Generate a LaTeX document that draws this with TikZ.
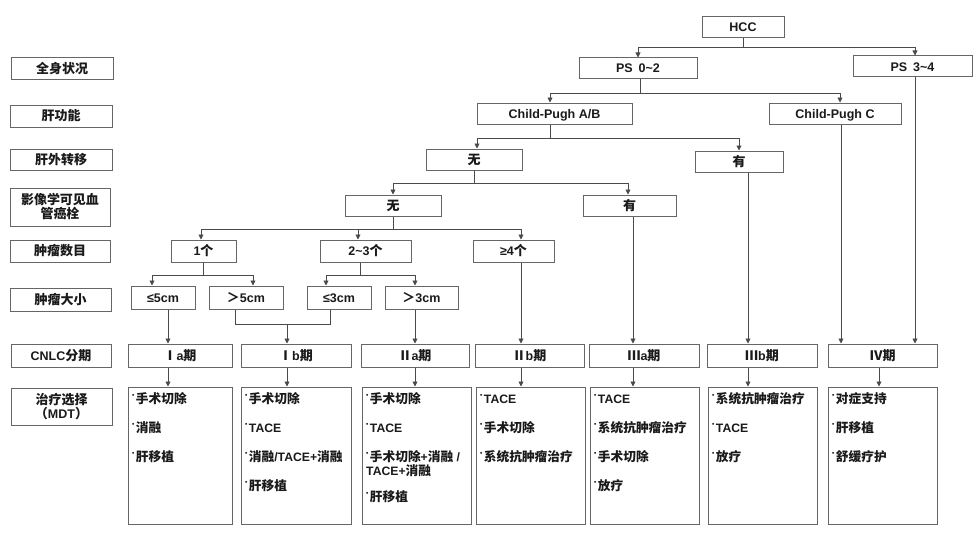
\documentclass[tikz,border=0pt]{standalone}
\usepackage{fontspec}
\setmainfont{Liberation Sans}
\newfontfamily\zhf{Noto Sans CJK SC}[Scale=1.04]
\usetikzlibrary{arrows.meta}
\newcommand\z[1]{{\zhf #1}}
\newcommand\bul{\raisebox{0.5em}{\fontsize{6.5}{6.5}\selectfont\textbullet}\hspace{1.5pt}}
\newcommand\lblfont{\fontsize{12.5}{14}\selectfont\bfseries}
\newcommand\trfont{\fontsize{12.2}{14}\selectfont\bfseries}
\definecolor{boxc}{HTML}{666666}
\definecolor{linec}{HTML}{4A4A4A}
\definecolor{txt}{HTML}{1A1A1A}
\begin{document}
\begin{tikzpicture}[x=1pt,y=-1pt,
  box/.style={draw=boxc, line width=1pt, fill=white, inner sep=0pt, font=\lblfont, text=txt, text height=9.5pt, text depth=0.5pt},
  box2/.style={draw=boxc, line width=1pt, fill=white, inner sep=0pt, font=\lblfont, text=txt, align=center},
  tl/.style={anchor=base west, inner sep=0pt, font=\trfont, text=txt},
  conn/.style={draw=linec, line width=0.85pt},
  arr/.style={conn, -{Triangle[length=5pt,width=5pt]}}]
\fill[white] (0,0) rectangle (980,535);
\useasboundingbox (0,0) rectangle (980,535);

% left column
\node[box, minimum width=102pt, minimum height=22pt] (L1) at (62,69) {\z{全身状况}};
\node[box, minimum width=102pt, minimum height=22pt] (L2) at (61,116) {\z{肝功能}};
\node[box, minimum width=102pt, minimum height=21pt] (L3) at (61,159.5) {\z{肝外转移}};
\node[box2, minimum width=100pt, minimum height=38pt] (L4) at (60,207) {\z{影像学可见血}\\\z{管癌栓}};
\node[box, minimum width=100pt, minimum height=22pt] (L5) at (60,251) {\z{肿瘤数目}};
\node[box, minimum width=101pt, minimum height=23pt] (L6) at (60.5,299.5) {\z{肿瘤大小}};
\node[box, minimum width=100pt, minimum height=23pt] (L7) at (61,355.5) {CNLC\z{分期}};
\node[box2, minimum width=101pt, minimum height=37pt] (L8) at (61.5,406.5) {\z{治疗选择}\\\z{（}MDT\z{）}};

% tree
\node[box, minimum width=82pt, minimum height=21pt] (HCC) at (743,27.5) {HCC};
\node[box, minimum width=118pt, minimum height=21pt] (PS02) at (638,68.5) {PS\hspace{6pt}0\textasciitilde 2};
\node[box, minimum width=119pt, minimum height=21pt] (PS34) at (912.5,66.5) {PS\hspace{6pt}3\textasciitilde 4};
\node[box, minimum width=155pt, minimum height=21pt] (CPAB) at (554.5,113.5) {Child-Pugh A/B};
\node[box, minimum width=132pt, minimum height=21pt] (CPC) at (835,113.5) {Child-Pugh C};
\node[box, minimum width=96pt, minimum height=21pt] (W3) at (474,159.5) {\z{无}};
\node[box, minimum width=88pt, minimum height=21pt] (Y3) at (739,161.5) {\z{有}};
\node[box, minimum width=96pt, minimum height=21pt] (W4) at (393,205.5) {\z{无}};
\node[box, minimum width=93pt, minimum height=21pt] (Y4) at (629.5,205.5) {\z{有}};
\node[box, minimum width=65pt, minimum height=22pt] (N1) at (203.5,251) {1\z{个}};
\node[box, minimum width=91pt, minimum height=22pt] (N2) at (365.5,251) {2\textasciitilde 3\z{个}};
\node[box, minimum width=81pt, minimum height=22pt] (N3) at (513.5,251) {≥4\z{个}};
\node[box, minimum width=64pt, minimum height=23pt] (S1) at (163,297.5) {≤5cm};
\node[box, minimum width=74pt, minimum height=23pt] (S2) at (246,297.5) {\z{＞}5cm};
\node[box, minimum width=64pt, minimum height=23pt] (S3) at (339,297.5) {≤3cm};
\node[box, minimum width=73pt, minimum height=23pt] (S4) at (421.5,297.5) {\z{＞}3cm};

% stages
\node[box, minimum width=104pt, minimum height=23pt] (Ia) at (180,355.5) {\z{Ⅰ}a\z{期}};
\node[box, minimum width=110pt, minimum height=23pt] (Ib) at (296,355.5) {\z{Ⅰ}b\z{期}};
\node[box, minimum width=108pt, minimum height=23pt] (IIa) at (415,355.5) {\z{Ⅱ}a\z{期}};
\node[box, minimum width=109pt, minimum height=23pt] (IIb) at (529.5,355.5) {\z{Ⅱ}b\z{期}};
\node[box, minimum width=110pt, minimum height=23pt] (IIIa) at (644,355.5) {\z{Ⅲ}a\z{期}};
\node[box, minimum width=110pt, minimum height=23pt] (IIIb) at (762,355.5) {\z{Ⅲ}b\z{期}};
\node[box, minimum width=109pt, minimum height=23pt] (IV) at (882.5,355.5) {\z{Ⅳ期}};

% treatment boxes
\node[box, minimum width=104pt, minimum height=137pt] (T1) at (180,455.5) {};
\node[box, minimum width=110pt, minimum height=137pt] (T2) at (296,455.5) {};
\node[box, minimum width=109pt, minimum height=137pt] (T3) at (416.5,455.5) {};
\node[box, minimum width=109pt, minimum height=137pt] (T4) at (530.5,455.5) {};
\node[box, minimum width=109pt, minimum height=137pt] (T5) at (644.5,455.5) {};
\node[box, minimum width=109pt, minimum height=137pt] (T6) at (762.5,455.5) {};
\node[box, minimum width=109pt, minimum height=137pt] (T7) at (882.5,455.5) {};

% treatment texts
\node[tl] (T1a) at (132,403.5) {\bul\z{手术切除}};
\node[tl] (T1b) at (132,432.5) {\bul\z{消融}};
\node[tl] (T1c) at (132,461.5) {\bul\z{肝移植}};

\node[tl] (T2a) at (245,403.5) {\bul\z{手术切除}};
\node[tl] (T2b) at (245,432.5) {\bul TACE};
\node[tl] (T2c) at (245,461.5) {\bul\z{消融}/TACE+\z{消融}};
\node[tl] (T2d) at (245,490.5) {\bul\z{肝移植}};

\node[tl] (T3a) at (366,403.5) {\bul\z{手术切除}};
\node[tl] (T3b) at (366,432.5) {\bul TACE};
\node[tl] (T3c) at (366,461.5) {\bul\z{手术切除}+\z{消融} /};
\node[tl] (T3d) at (366,475.5) {TACE+\z{消融}};
\node[tl] (T3e) at (366,501.5) {\bul\z{肝移植}};

\node[tl] (T4a) at (480,403.5) {\bul TACE};
\node[tl] (T4b) at (480,432.5) {\bul\z{手术切除}};
\node[tl] (T4c) at (480,461.5) {\bul\z{系统抗肿瘤治疗}};

\node[tl] (T5a) at (594,403.5) {\bul TACE};
\node[tl] (T5b) at (594,432.5) {\bul\z{系统抗肿瘤治疗}};
\node[tl] (T5c) at (594,461.5) {\bul\z{手术切除}};
\node[tl] (T5d) at (594,490.5) {\bul\z{放疗}};

\node[tl] (T6a) at (712,403.5) {\bul\z{系统抗肿瘤治疗}};
\node[tl] (T6b) at (712,432.5) {\bul TACE};
\node[tl] (T6c) at (712,461.5) {\bul\z{放疗}};

\node[tl] (T7a) at (832,403.5) {\bul\z{对症支持}};
\node[tl] (T7b) at (832,432.5) {\bul\z{肝移植}};
\node[tl] (T7c) at (832,461.5) {\bul\z{舒缓疗护}};

% connectors
\coordinate (j1) at (HCC.south |- 0,47);
\draw[conn] (HCC.south) -- (j1);
\draw[arr] (j1) -| (PS02.north);
\draw[arr] (j1) -| (915,0 |- PS34.north);

\coordinate (j2) at (640,93);
\draw[conn] (640,0 |- PS02.south) -- (j2);
\draw[arr] (j2) -| (550,0 |- CPAB.north);
\draw[arr] (j2) -| (840,0 |- CPC.north);
\draw[arr] (841,0 |- CPC.south) -- (841,0 |- IV.north);
\draw[arr] (915,0 |- PS34.south) -- (915,0 |- IV.north);

\coordinate (j3) at (550,138);
\draw[conn] (550,0 |- CPAB.south) -- (j3);
\draw[arr] (j3) -| (477,0 |- W3.north);
\draw[arr] (j3) -| (739,0 |- Y3.north);
\draw[arr] (748,0 |- Y3.south) -- (748,0 |- IIIb.north);

\coordinate (j4) at (474,183);
\draw[conn] (474,0 |- W3.south) -- (j4);
\draw[arr] (j4) -| (393,0 |- W4.north);
\draw[arr] (j4) -| (628,0 |- Y4.north);
\draw[arr] (633,0 |- Y4.south) -- (633,0 |- IIIa.north);

\coordinate (j5) at (393,229);
\draw[conn] (393,0 |- W4.south) -- (j5);
\draw[arr] (j5) -| (201,0 |- N1.north);
\draw[arr] (j5) -| (358,0 |- N2.north);
\draw[arr] (j5) -| (521,0 |- N3.north);
\draw[arr] (521,0 |- N3.south) -- (521,0 |- IIb.north);

\coordinate (j6) at (203,275);
\draw[conn] (203,0 |- N1.south) -- (j6);
\draw[arr] (j6) -| (152,0 |- S1.north);
\draw[arr] (j6) -| (253,0 |- S2.north);

\coordinate (j7) at (360,275);
\draw[conn] (360,0 |- N2.south) -- (j7);
\draw[arr] (j7) -| (326,0 |- S3.north);
\draw[arr] (j7) -| (415,0 |- S4.north);

\draw[arr] (168,0 |- S1.south) -- (168,0 |- Ia.north);
\coordinate (j8) at (287,324);
\draw[conn] (235,0 |- S2.south) -- (235,324) -- (330,324) -- (330,0 |- S3.south);
\draw[arr] (j8) -- (287,0 |- Ib.north);
\draw[arr] (415,0 |- S4.south) -- (415,0 |- IIa.north);

\foreach \s/\t/\x in {Ia/T1/168, Ib/T2/287, IIa/T3/415, IIb/T4/521, IIIa/T5/633, IIIb/T6/748, IV/T7/879}
  \draw[arr] (\x,0 |- \s.south) -- (\x,0 |- \t.north);
\end{tikzpicture}
\end{document}
